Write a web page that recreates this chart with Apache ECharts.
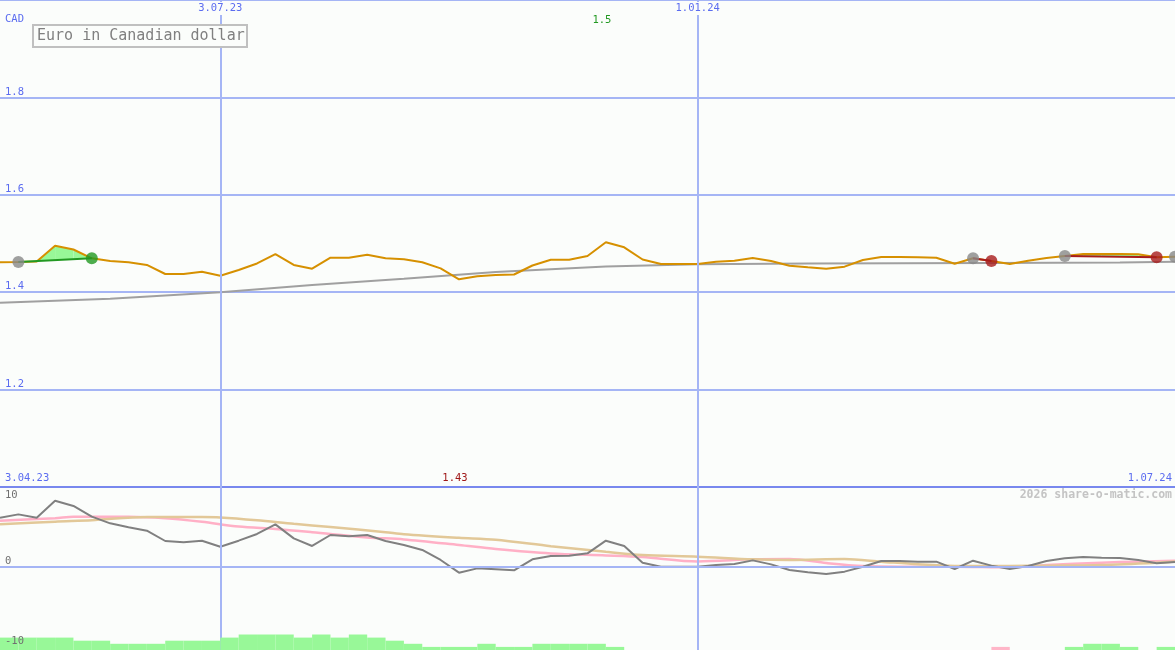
<!DOCTYPE html>
<html><head><meta charset="utf-8">
<script src="https://cdn.jsdelivr.net/npm/echarts@6/dist/echarts.min.js"></script>
<style>html,body{margin:0;padding:0;background:#fbfdfb}#c{width:1175px;height:650px}</style>
</head><body><div id="c"></div>
<script>
// ---- data ----
const dates = ['2023-04-10','2023-04-17','2023-04-24','2023-05-01','2023-05-08','2023-05-15','2023-05-22','2023-05-29','2023-06-05','2023-06-12','2023-06-19','2023-06-26','2023-07-03','2023-07-10','2023-07-17','2023-07-24','2023-07-31','2023-08-07','2023-08-14','2023-08-21','2023-08-28','2023-09-04','2023-09-11','2023-09-18','2023-09-25','2023-10-02','2023-10-09','2023-10-16','2023-10-23','2023-10-30','2023-11-06','2023-11-13','2023-11-20','2023-11-27','2023-12-04','2023-12-11','2023-12-18','2023-12-25','2024-01-01','2024-01-08','2024-01-15','2024-01-22','2024-01-29','2024-02-05','2024-02-12','2024-02-19','2024-02-26','2024-03-04','2024-03-11','2024-03-18','2024-03-25','2024-04-01','2024-04-08','2024-04-15','2024-04-22','2024-04-29','2024-05-06','2024-05-13','2024-05-20','2024-05-27','2024-06-03','2024-06-10','2024-06-17','2024-06-24','2024-07-01'];
const rate = [1.4614,1.462,1.463,1.4955,1.4877,1.4696,1.464,1.4614,1.4559,1.4374,
 1.4374,1.4421,1.4339,1.4456,1.459,1.4784,1.4559,1.4483,1.4708,1.4708,
 1.477,1.4696,1.4676,1.4614,1.449,1.4265,1.4327,1.4353,1.4363,1.4548,
 1.4667,1.4667,1.4743,1.5025,1.4922,1.4671,1.4579,1.4579,1.4579,1.4626,
 1.4647,1.4702,1.4641,1.4544,1.4511,1.4483,1.4524,1.4661,1.4723,1.4723,
 1.4717,1.4708,1.4585,1.4696,1.4641,1.4579,1.4647,1.4702,1.4743,1.4784,
 1.4784,1.4784,1.4778,1.4717,1.4729];
const maDates = ['2023-04-10','2023-05-22','2023-07-03','2023-08-07','2023-09-11','2023-10-16','2023-11-27','2024-01-01','2024-02-12','2024-04-22','2024-06-10','2024-07-01'];
const maValues = [1.3785,1.3867,1.3998,1.4148,1.4277,1.4417,1.4528,1.4573,1.4587,1.46,1.461,1.4626];
const distance = [6.16,6.58,6.16,8.29,7.63,6.29,5.46,4.96,4.54,3.25,
 3.08,3.29,2.54,3.29,4.13,5.33,3.58,2.63,4.0,3.83,
 4.0,3.25,2.75,2.13,0.88,-0.71,-0.17,-0.29,-0.42,0.96,
 1.38,1.42,1.71,3.29,2.63,0.54,0.04,0.04,0.04,0.25,
 0.38,0.83,0.33,-0.38,-0.67,-0.88,-0.58,0.04,0.75,0.75,
 0.67,0.67,-0.25,0.79,0.17,-0.25,0.13,0.75,1.08,1.25,
 1.17,1.13,0.88,0.46,0.63];
const pinkWeeks = [0,3,4,7,9,11,13,15,17,20,22,25,27,30,33,35,38,41,43,45,47,49,52,55,57,60,62,64];
const pinkValues = [5.79,6.1,6.29,6.29,6.1,5.65,5.05,4.75,4.35,3.7,3.45,2.75,2.25,1.7,1.45,1.25,0.7,0.96,1.0,0.5,0.12,0.04,0.04,-0.04,0.25,0.54,0.67,0.79];
const tanWeeks = [0,3,5,8,11,12,14,16,18,21,22,25,27,30,33,35,38,41,43,46,48,50,52,55,57,60,63,64];
const tanValues = [5.33,5.67,5.85,6.25,6.25,6.2,5.85,5.4,5.0,4.35,4.1,3.65,3.4,2.6,1.9,1.5,1.29,0.96,0.88,1.0,0.67,0.33,0.125,0.125,0.17,0.25,0.54,0.7];
const barValues = [4,4,4,4,3,3,2,2,2,3,3,3,4,5,5,5,4,5,4,5,4,3,2,1,1,1,2,1,1,2,2,2,2,1,0,0,0,0,0,0,0,0,0,0,0,0,0,0,0,0,0,0,0,0,-1,0,0,0,1,2,2,1,0,1,0];
const trades = [{buy:1,sell:5},{buy:53,sell:54},{buy:58,sell:63},{buy:64,sell:null}];
const tickDates = ['2023-07-03','2024-01-01'];
const tickLabels = ['3.07.23','1.01.24'];
const edgeLabels = ['3.04.23','1.07.24'];
const yLabelsTop = ['1.2','1.4','1.6','1.8'];
const yLabelsBottom = ['-10','0','10'];
const unitLabel = 'CAD';
const seriesName = 'Euro in Canadian dollar';
const watermark = '2026 share-o-matic.com';

// ---- styles ----
const BG = '#fbfdfb', BLUE = '#5b6cf0', GRIDC = '#a5b5f5', DIV = '#7888ee';
const FONT = 'DejaVu Sans Mono';
const FS = 10.5;
const WIN = '#229922', LOSS = '#a81c1c', BUY = '#888888';

const T = s => { const p = s.split('-').map(Number); return Date.UTC(p[0], p[1]-1, p[2]); };
const X = dates.map(T);
const xMin = X[0], xMax = X[X.length-1];
const xa = (gi, extra) => Object.assign({type:'time', gridIndex:gi, min:xMin, max:xMax,
  axisLabel:{show:false}, axisTick:{show:false}, splitLine:{show:false}, axisLine:{show:false}}, extra || {});
const vLines = tickDates.map(d => ({xAxis: T(d)}));
const mlStyle = {symbol:'none', silent:true, label:{show:false}, lineStyle:{color:GRIDC, width:2, type:'solid'}, animation:false};

function segFills(a, b, p0, p1, out) {
  const chordAt = x => a[1] + (b[1]-a[1]) * (x - a[0]) / (b[0]-a[0]);
  const c0 = [p0[0], chordAt(p0[0])], c1 = [p1[0], chordAt(p1[0])];
  const d0 = c0[1]-p0[1], d1 = c1[1]-p1[1];
  const col = d => d >= 0 ? '#98f898' : '#ffb6c8';
  if (d0 * d1 < 0) {
    const t = d0/(d0-d1);
    const q = [p0[0]+(p1[0]-p0[0])*t, p0[1]+(p1[1]-p0[1])*t];
    out.push({type:'polygon', shape:{points:[p0,q,c0]}, style:{fill:col(d0)}});
    out.push({type:'polygon', shape:{points:[q,p1,c1]}, style:{fill:col(d1)}});
  } else {
    out.push({type:'polygon', shape:{points:[p0,p1,c1,c0]}, style:{fill:col(d0+d1)}});
  }
}
const tradeData = trades.map(t => [X[t.buy], rate[t.buy]]);

const chart = echarts.init(document.getElementById('c'), null, {renderer:'canvas'});
chart.setOption({
  backgroundColor: BG,
  animation: false,
  grid: [
    {left:0, right:0, top:0, height:487},
    {left:0, right:0, top:487, height:160},
    {left:0, right:0, top:619, height:31}
  ],
  xAxis: [
    xa(0, {axisLine:{show:true, onZero:false, lineStyle:{color:DIV, width:2}}}),
    xa(1), xa(2)
  ],
  yAxis: [
    {type:'value', gridIndex:0, min:1, max:2, interval:0.2,
     axisLine:{show:false}, axisTick:{show:false},
     splitLine:{show:true, lineStyle:{color:GRIDC, width:2}},
     axisLabel:{inside:true, margin:5, verticalAlign:'bottom', padding:[0,0,0,0], color:BLUE, fontFamily:FONT, fontSize:FS,
       formatter: v => { const s = v.toFixed(1); return yLabelsTop.includes(s) ? s : ''; }}},
    {type:'value', gridIndex:1, min:-10, max:10, interval:10, z:20,
     axisLine:{show:false}, axisTick:{show:false}, splitLine:{show:false},
     axisLabel:{inside:true, margin:5, verticalAlign:'bottom', verticalAlignMaxLabel:'top', padding:[3,0,0,0],
       color:'#707070', fontFamily:FONT, fontSize:FS,
       formatter: v => { const s = String(Math.round(v)); return yLabelsBottom.includes(s) ? s : ''; }}},
    {type:'value', gridIndex:2, min:0, max:10, show:false}
  ],
  series: [
    {type:'custom', name:'fills', xAxisIndex:0, yAxisIndex:0, z:1, data:tradeData, encode:{x:0,y:1}, silent:true,
     renderItem: (params, api) => {
       const t = trades[params.dataIndex];
       if (t.sell == null) return null;
       const p = i => api.coord([X[i], rate[i]]);
       const a = p(t.buy), b = p(t.sell);
       const ch = [];
       for (let i = t.buy; i < t.sell; i++) segFills(a, b, p(i), p(i+1), ch);
       return {type:'group', children:ch};
     }},
    {type:'line', name:'average', xAxisIndex:0, yAxisIndex:0, z:2, symbol:'none', silent:true,
     data: maDates.map((d,i) => [T(d), maValues[i]]), lineStyle:{color:'#a0a0a0', width:2}},
    {type:'line', name:seriesName, xAxisIndex:0, yAxisIndex:0, z:3, symbol:'none', silent:true,
     data: X.map((x,i) => [x, rate[i]]), lineStyle:{color:'#d69000', width:2},
     markLine: Object.assign({data:vLines}, mlStyle)},
    {type:'custom', name:'chords', xAxisIndex:0, yAxisIndex:0, z:4, data:tradeData, encode:{x:0,y:1}, silent:true,
     renderItem: (params, api) => {
       const t = trades[params.dataIndex];
       if (t.sell == null) return null;
       const a = api.coord([X[t.buy], rate[t.buy]]), b = api.coord([X[t.sell], rate[t.sell]]);
       const win = rate[t.sell] > rate[t.buy];
       return {type:'line', shape:{x1:a[0], y1:a[1], x2:b[0], y2:b[1]}, style:{stroke: win ? WIN : LOSS, lineWidth:2}};
     }},
    {type:'scatter', name:'buy', xAxisIndex:0, yAxisIndex:0, z:5, symbolSize:12, silent:true,
     data: trades.map(t => [X[t.buy], rate[t.buy]]), itemStyle:{color:BUY}},
    {type:'scatter', name:'sell', xAxisIndex:0, yAxisIndex:0, z:5, symbolSize:12, silent:true,
     data: trades.filter(t => t.sell != null).map(t => ({value:[X[t.sell], rate[t.sell]],
       itemStyle:{color: rate[t.sell] > rate[t.buy] ? WIN : LOSS}}))},
    {type:'line', name:'pink', xAxisIndex:1, yAxisIndex:1, z:2, symbol:'none', silent:true, smooth:0.3,
     data: pinkWeeks.map((w,i) => [X[w], pinkValues[i]]), lineStyle:{color:'#ffb0c6', width:2.5}},
    {type:'line', name:'tan', xAxisIndex:1, yAxisIndex:1, z:2, symbol:'none', silent:true, smooth:0.3,
     data: tanWeeks.map((w,i) => [X[w], tanValues[i]]), lineStyle:{color:'#e2c898', width:2.5}},
    {type:'line', name:'distance', xAxisIndex:1, yAxisIndex:1, z:3, symbol:'none', silent:true,
     data: X.map((x,i) => [x, distance[i]]), lineStyle:{color:'#808080', width:2},
     markLine: Object.assign({data: vLines.concat([{yAxis:0}])}, mlStyle)},
    {type:'line', name:'guides', xAxisIndex:2, yAxisIndex:2, z:1, symbol:'none', silent:true,
     data: [[xMin,0],[xMax,0]], lineStyle:{opacity:0},
     markLine: Object.assign({data: vLines}, mlStyle)},
    {type:'custom', name:'bars', xAxisIndex:2, yAxisIndex:2, z:6, silent:true,
     data: X.map((x,i) => [x, barValues[i]]), encode:{x:0,y:1},
     renderItem: (params, api) => {
       const i = params.dataIndex, v = barValues[i];
       if (!v || i + 1 >= X.length) return null;
       const a = api.coord([X[i], Math.abs(v)]), b = api.coord([X[i+1], 0]);
       return {type:'rect', shape:{x:a[0], y:a[1], width:b[0]-a[0], height:b[1]-a[1]},
         style:{fill: v > 0 ? '#98f898' : '#ffb6c8'}};
     }}
  ]
});

// ---- text overlays, x positions from the library's scale ----
const px = ts => chart.convertToPixel({xAxisIndex:0}, ts);
let iMax = 0, iMin = 0;
rate.forEach((v,i) => { if (v > rate[iMax]) iMax = i; if (v < rate[iMin]) iMin = i; });
const fmt = v => String(parseFloat(v.toFixed(2)));
const txt = (x, y, text, fill, align, extra) => ({type:'text', z:100, x, y,
  style:Object.assign({text, fill, textAlign:align, textVerticalAlign:'top', font:FS + 'px ' + FONT}, extra || {})});
const g = [];
tickDates.forEach((d,k) => {
  const x = px(T(d));
  g.push({type:'rect', z:99, shape:{x:x-25, y:2, width:50, height:13}, style:{fill:BG}});
  g.push(txt(x, 3, tickLabels[k], BLUE, 'center'));
});
g.push(txt(5, 14, unitLabel, BLUE, 'left'));
g.push(txt(px(X[iMax]) - 4, 15, fmt(rate[iMax]), WIN, 'center'));
g.push(txt(px(X[iMin]) - 4, 473, fmt(rate[iMin]), '#a01818', 'center'));
g.push(txt(5, 473, edgeLabels[0], BLUE, 'left'));
g.push(txt(1172, 473, edgeLabels[1], BLUE, 'right'));
g.push(txt(1172, 489, watermark, '#c4c4c4', 'right', {font:'bold 11.5px ' + FONT}));
g.push({type:'rect', z:99, shape:{x:33, y:25, width:214, height:22}, style:{fill:BG, stroke:'#c0c0c0', lineWidth:2}});
g.push({type:'text', z:100, x:37, y:36, style:{text:seriesName, fill:'#808080', textAlign:'left', textVerticalAlign:'middle', font:'15px ' + FONT}});
chart.setOption({graphic:g});
</script>
</body></html>
